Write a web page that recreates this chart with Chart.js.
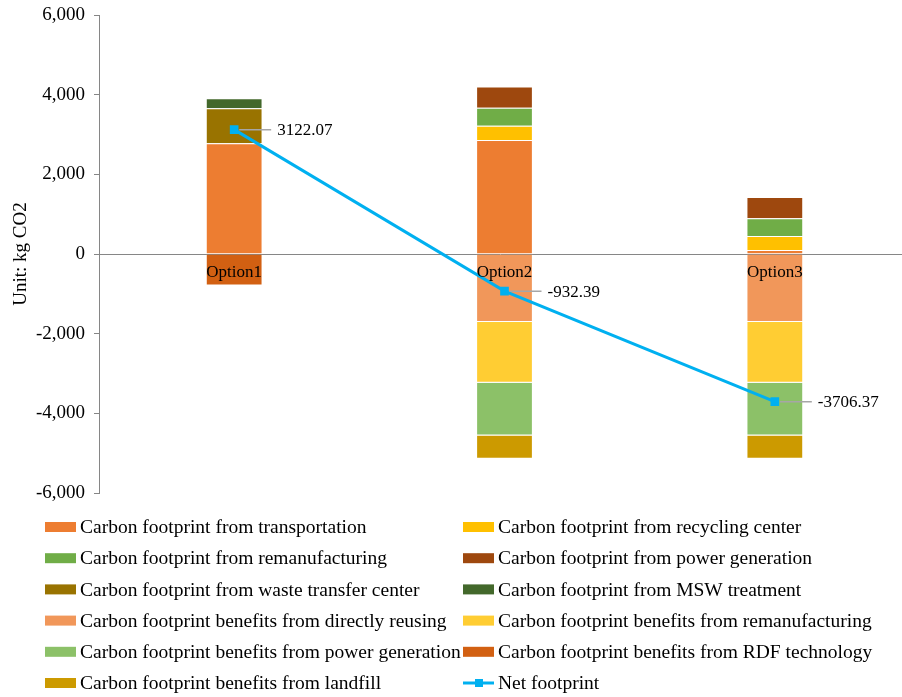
<!DOCTYPE html>
<html>
<head>
<meta charset="utf-8">
<script src="https://cdn.jsdelivr.net/npm/chart.js@4"></script>
<style>
  html, body { margin: 0; padding: 0; background: #fff; overflow: hidden; }
  #footprintChart { display: block; }
</style>
</head>
<body>
<canvas id="footprintChart" width="902" height="697"></canvas>
<script>
const options = ["Option1", "Option2", "Option3"];

// emissions (positive) and benefits (negative), kg CO2
const transportation = [2780, 2860, 100];
const recyclingCenter = [null, 360, 350];
const remanufacturing = [null, 450, 450];
const powerGeneration = [null, 537.61, 533.63];
const wasteTransfer = [880, null, null];
const mswTreatment = [250, null, null];
const benefitReusing = [null, -1710, -1710];
const benefitReman = [null, -1525, -1525];
const benefitPower = [null, -1320, -1320];
const benefitRdf = [-787.93, null, null];
const benefitLandfill = [null, -585, -585];
const netFootprint = [3122.07, -932.39, -3706.37];

const yTicks = [-6000, -4000, -2000, 0, 2000, 4000, 6000];

const FONT = "'Liberation Serif', 'Times New Roman', serif";
const AXIS_GREY = "#868686";

document.addEventListener("DOMContentLoaded", () => {

  const bar = (label, data, color) => ({
    type: "bar",
    label: label,
    data: data,
    backgroundColor: color,
    borderColor: "rgba(255,255,255,0.3)",
    borderWidth: 1,
    stack: "s",
    barPercentage: 0.21,
    categoryPercentage: 1
  });

  const datasets = [
    bar("Carbon footprint from transportation", transportation, "#ED7D31"),
    bar("Carbon footprint from recycling center", recyclingCenter, "#FFC000"),
    bar("Carbon footprint from remanufacturing", remanufacturing, "#70AD47"),
    bar("Carbon footprint from power generation", powerGeneration, "#9E480E"),
    bar("Carbon footprint from waste transfer center", wasteTransfer, "#997300"),
    bar("Carbon footprint from MSW treatment", mswTreatment, "#43682B"),
    bar("Carbon footprint benefits from directly reusing", benefitReusing, "#F1975A"),
    bar("Carbon footprint benefits from remanufacturing", benefitReman, "#FFCD33"),
    bar("Carbon footprint benefits from power generation", benefitPower, "#8CC168"),
    bar("Carbon footprint benefits from RDF technology", benefitRdf, "#D26012"),
    bar("Carbon footprint benefits from landfill", benefitLandfill, "#CC9A00"),
    {
      type: "line",
      label: "Net footprint",
      data: netFootprint,
      borderColor: "#00B0F0",
      backgroundColor: "#00B0F0",
      borderWidth: 3,
      pointStyle: "rect",
      pointRadius: 4,
      order: -1
    }
  ];

  // zero line, category names, net value labels, legend
  const overlay = {
    id: "overlay",
    afterLayout(chart) {
      // the category band runs a little past the right edge of the canvas
      const x = chart.scales.x;
      x.width = 811;
      x.right = x.left + 811;
      x.configure();
    },
    beforeDatasetsDraw(chart) {
      const ctx = chart.ctx;
      const y0 = chart.scales.y.getPixelForValue(0);
      ctx.save();
      ctx.strokeStyle = AXIS_GREY;
      ctx.lineWidth = 1;
      ctx.beginPath();
      ctx.moveTo(chart.chartArea.left, Math.round(y0) + 0.5);
      ctx.lineTo(chart.width, Math.round(y0) + 0.5);
      ctx.stroke();
      ctx.restore();
    },
    afterDatasetsDraw(chart) {
      const ctx = chart.ctx;
      const y0 = chart.scales.y.getPixelForValue(0);
      ctx.save();
      ctx.fillStyle = "#000";
      ctx.font = "17px " + FONT;
      ctx.textAlign = "center";
      ctx.textBaseline = "middle";
      options.forEach((name, i) => {
        ctx.fillText(name, chart.scales.x.getPixelForValue(i), y0 + 19);
      });

      const lineMeta = chart.getDatasetMeta(datasets.length - 1);
      ctx.textAlign = "left";
      lineMeta.data.forEach((pt, i) => {
        ctx.strokeStyle = "#A6A6A6";
        ctx.lineWidth = 1.5;
        ctx.beginPath();
        ctx.moveTo(pt.x + 5, pt.y);
        ctx.lineTo(pt.x + 37, pt.y);
        ctx.stroke();
        ctx.fillStyle = "#000";
        ctx.fillText(netFootprint[i].toFixed(2), pt.x + 43, pt.y + 1);
      });
      ctx.restore();
    },
    afterDraw(chart) {
      // two-column legend under the plot
      const ctx = chart.ctx;
      ctx.save();
      ctx.font = "19.5px " + FONT;
      ctx.textBaseline = "middle";
      ctx.textAlign = "left";
      datasets.forEach((ds, i) => {
        const col = i % 2;
        const row = Math.floor(i / 2);
        const x = col === 0 ? 45 : 463;
        const y = 527 + row * 31.2;
        if (ds.type === "line") {
          ctx.strokeStyle = ds.borderColor;
          ctx.lineWidth = 3;
          ctx.beginPath();
          ctx.moveTo(x, y);
          ctx.lineTo(x + 31, y);
          ctx.stroke();
          ctx.fillStyle = ds.backgroundColor;
          ctx.fillRect(x + 12, y - 4, 8, 8);
        } else {
          ctx.fillStyle = ds.backgroundColor;
          ctx.fillRect(x, y - 5, 31, 10);
        }
        ctx.fillStyle = "#000";
        ctx.fillText(ds.label, x + 35, y + 1);
      });
      ctx.restore();
    }
  };

  const ctx = document.getElementById("footprintChart").getContext("2d");
  new Chart(ctx, {
    data: {
      labels: options,
      datasets: datasets
    },
    options: {
      responsive: false,
      animation: false,
      devicePixelRatio: 1,
      layout: {
        autoPadding: false,
        padding: { top: 15, bottom: 204, left: 0, right: 0 }
      },
      plugins: {
        legend: { display: false },
        tooltip: { enabled: false }
      },
      scales: {
        x: {
          display: false,
          stacked: true,
          offset: true
        },
        y: {
          stacked: true,
          min: -6000,
          max: 6000,
          afterBuildTicks(scale) {
            scale.ticks = yTicks.map(v => ({ value: v }));
          },
          afterFit(scale) {
            scale.width = 99;
          },
          ticks: {
            color: "#000",
            font: { family: FONT, size: 19, lineHeight: 0.6 },
            padding: 9,
            callback: v => v.toLocaleString("en-US")
          },
          grid: {
            drawOnChartArea: false,
            drawTicks: true,
            tickLength: 5,
            color: AXIS_GREY
          },
          border: { display: true, color: AXIS_GREY },
          title: {
            display: true,
            text: "Unit: kg CO2",
            color: "#000",
            font: { family: FONT, size: 19 },
            padding: { top: 10, bottom: 0 }
          }
        }
      }
    },
    plugins: [overlay]
  });
});
</script>
</body>
</html>
